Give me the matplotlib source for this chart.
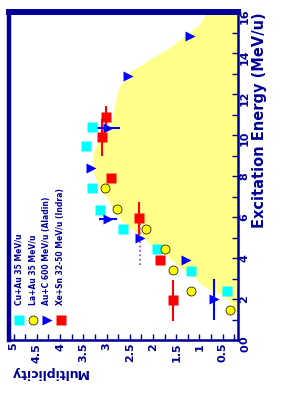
import matplotlib.pyplot as plt
from matplotlib.ticker import MultipleLocator

# chart is drawn turned on its side: multiplicity runs right->left, energy bottom->top
navy = '#000099'

# band edge (excitation energy, multiplicity)
band_E = [1.0, 1.25, 1.7, 2.2, 2.65, 3.0, 3.6, 4.1, 4.55, 5.15, 5.65, 6.1, 6.7, 7.4,
          8.1, 9.1, 9.8, 10.5, 11.5, 12.2, 13.1, 13.45, 13.7, 14.2, 14.75, 15.4, 16.0]
band_M = [0.0, 0.19, 0.28, 0.5, 0.93, 1.08, 1.45, 1.7, 2.0, 2.28, 2.6, 2.78, 2.93, 3.15,
          3.27, 3.3, 3.15, 2.9, 2.82, 2.76, 2.5, 2.22, 2.07, 1.68, 1.36, 0.99, 0.85]

# Cu+Au (cyan squares)
cu_E = [10.4, 9.45, 7.42, 6.36, 5.4, 4.43, 3.37, 2.41]
cu_M = [3.32, 3.45, 3.32, 3.15, 2.65, 1.92, 1.19, 0.41]

# La+Au (yellow circles)
la_E = [7.42, 6.4, 5.4, 4.43, 3.42, 2.41, 1.45]
la_M = [3.04, 2.78, 2.16, 1.75, 1.57, 1.19, 0.34]

# Aladin (blue triangles)
al_E = [14.84, 12.9, 10.36, 8.4, 5.9, 4.96, 3.9, 1.98]
al_M = [1.21, 2.54, 2.97, 3.34, 2.97, 2.28, 1.29, 0.69]
al_Merr = [0, 0, 0.27, 0, 0.2, 0, 0, 0]
al_Eerr = [0, 0, 0, 0, 0, 1.3, 0, 1.0]

# Indra (red squares)
in_E = [10.9, 9.88, 7.9, 5.93, 3.9, 1.93]
in_M = [3.02, 3.10, 2.91, 2.31, 1.85, 1.57]
in_Eerr = [0.5, 0.9, 0, 0.8, 0, 1.0]

names = ['Cu+Au 35 MeV/u', 'La+Au 35 MeV/u',
         'Au+C 600 MeV/u (Aladin)', 'Xe+Sn 32-50 MeV/u (Indra)']

fig = plt.figure(figsize=(2.86, 3.94), dpi=100)
ax = fig.add_axes([9/286, 54/394, 229/286, 328/394])

ax.fill_betweenx(band_E, 0, band_M, color='#FFFF8A', lw=0, zorder=1)

ax.errorbar(in_M, in_E, yerr=in_Eerr, fmt='none', ecolor='#FF0000', elinewidth=1.5, zorder=2)
ax.errorbar(al_M, al_E, xerr=al_Merr, fmt='none', ecolor='#0000FF', elinewidth=1.5, zorder=2)
eb = ax.errorbar(al_M[5:6], al_E[5:6], yerr=al_Eerr[5:6], fmt='none', ecolor='#9933FF',
                 elinewidth=1.2, zorder=2)
eb[2][0].set_linestyle(':')
ax.errorbar(al_M[7:], al_E[7:], yerr=al_Eerr[7:], fmt='none', ecolor='#0000FF',
            elinewidth=1.5, zorder=2)

styles = [dict(marker='s', color='#00FFFF', ms=7, mec='none'),
          dict(marker='o', color='#FFFF00', ms=6.5, mec='k', mew=0.5),
          dict(marker='>', color='#0000FF', ms=6.5, mec='none'),
          dict(marker='s', color='#FF0000', ms=7, mec='none')]
series = [(cu_M, cu_E), (la_M, la_E), (al_M, al_E), (in_M, in_E)]
for (m, e), st in zip(series, styles):
    ax.plot(m, e, ls='none', zorder=3, **st)

# legend, turned like the rest
for i, (name, st) in enumerate(zip(names, styles)):
    x = 0.044 + i * 0.0605
    ax.plot([x], [0.061], ls='none', transform=ax.transAxes, clip_on=False, **st)
    ax.text(x, 0.107, name, rotation=90, ha='center', va='bottom', transform=ax.transAxes,
            fontsize=5.5, fontweight='bold', color=navy)

ax.set_xlim(5.1, 0.17)
ax.set_ylim(0, 16)

for side, w in [('left', 3.2), ('top', 4.3), ('right', 1.8), ('bottom', 1.8)]:
    ax.spines[side].set_linewidth(w)
    ax.spines[side].set_color(navy)

ax.yaxis.tick_right()
ax.yaxis.set_label_position('right')
ax.set_xticks([5, 4.5, 4, 3.5, 3, 2.5, 2, 1.5, 1, 0.5])
ax.set_xticklabels(['5', '4.5', '4', '3.5', '3', '2.5', '2', '1.5', '1', '0.5'])
ax.set_yticks(range(0, 17, 2))
ax.xaxis.set_minor_locator(MultipleLocator(0.25))
ax.yaxis.set_minor_locator(MultipleLocator(1))
ax.tick_params(which='both', direction='in', color=navy, width=1, length=4)
ax.tick_params(axis='x', labelrotation=90, pad=2)
ax.tick_params(axis='y', labelrotation=90, pad=1)
for lab in ax.get_xticklabels() + ax.get_yticklabels():
    lab.set_fontsize(8)
    lab.set_fontweight('bold')
    lab.set_color(navy)
ax.annotate('0', xy=(0, 0), xycoords=('data', 'axes fraction'), xytext=(0, -3.5),
            textcoords='offset points', rotation=90, ha='center', va='top',
            fontsize=8, fontweight='bold', color=navy, annotation_clip=False)

ax.set_ylabel('Excitation Energy (MeV/u)', loc='top', fontsize=10.5, fontweight='bold',
              color=navy, labelpad=2)
fig.text(10/286, 1 - 373/394, 'Multiplicity', rotation=180, ha='left', va='center',
         fontsize=9, fontweight='bold', color=navy)

fig.savefig('out.png', dpi=100)
